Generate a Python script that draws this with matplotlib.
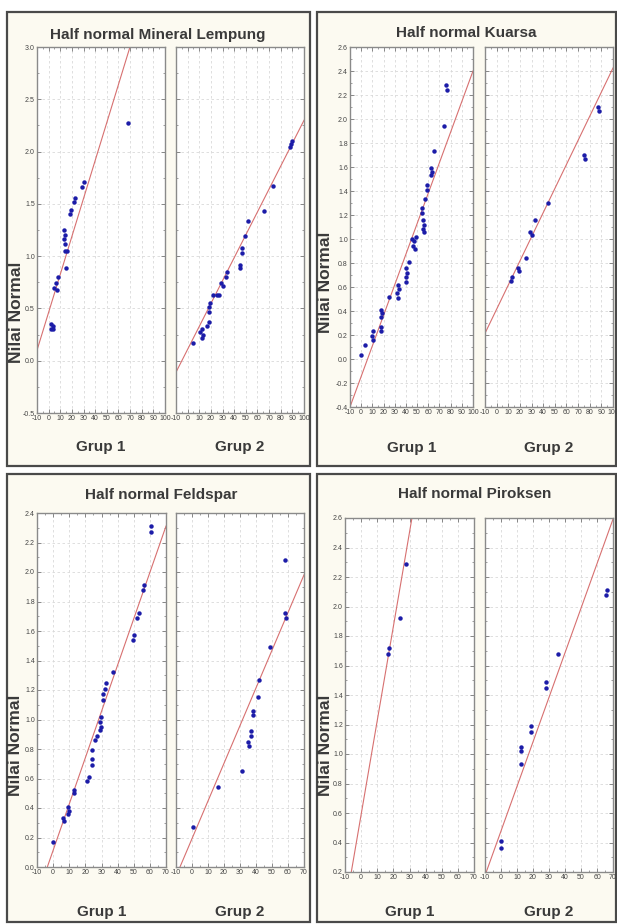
import matplotlib
matplotlib.use("Agg")
import matplotlib.pyplot as plt
from matplotlib.patches import Rectangle
from matplotlib.ticker import AutoMinorLocator

plt.rcParams['font.family'] = ['Liberation Sans', 'DejaVu Sans']

# ---- data (observed value, expected half-normal value) ----
titles = ["Half normal Mineral Lempung", "Half normal Kuarsa",
          "Half normal Feldspar", "Half normal Piroksen"]
group_names = ["Grup 1", "Grup 2"]

# Mineral Lempung
lempung_g1_x = [68.5, 30, 29, 23, 22, 19, 18, 13, 14, 13, 14, 14, 16, 15, 8, 6, 5, 7, 2, 4, 2, 4]
lempung_g1_y = [2.27, 1.71, 1.66, 1.56, 1.52, 1.44, 1.40, 1.25, 1.20, 1.16, 1.12, 1.05, 1.05,
                0.89, 0.80, 0.74, 0.70, 0.68, 0.35, 0.33, 0.30, 0.30]
lempung_g2_x = [90, 89, 88, 73, 66, 52, 49, 47, 47, 45, 45, 34, 33, 29, 30, 22, 25, 27,
                19, 18, 18, 18, 17, 12, 11, 13, 12, 5]
lempung_g2_y = [2.10, 2.07, 2.04, 1.67, 1.43, 1.34, 1.19, 1.08, 1.03, 0.92, 0.89, 0.85, 0.80,
                0.74, 0.71, 0.63, 0.63, 0.63, 0.55, 0.51, 0.47, 0.37, 0.33, 0.30, 0.27,
                0.25, 0.22, 0.17]
lempung_fit = [(0.463, 0.0363), (0.109, 0.0219)]  # (intercept, slope)

# Kuarsa
kuarsa_g1_x = [76, 77, 74, 65, 62, 63, 62, 59, 59, 57, 54, 54, 55, 56, 55, 56, 45, 47, 49,
               46, 48, 42.5, 40, 41, 40, 40, 33, 34, 32, 33, 24.6, 18, 19, 18, 17.5, 18,
               11, 10, 11, 3, 0]
kuarsa_g1_y = [2.28, 2.24, 1.94, 1.73, 1.59, 1.56, 1.53, 1.45, 1.41, 1.33, 1.26, 1.22, 1.16,
               1.12, 1.08, 1.06, 1.00, 0.98, 1.02, 0.94, 0.92, 0.81, 0.76, 0.72, 0.68, 0.64,
               0.62, 0.58, 0.55, 0.51, 0.52, 0.41, 0.38, 0.35, 0.27, 0.23, 0.23, 0.19,
               0.16, 0.12, 0.03]
kuarsa_g2_x = [87, 88, 75, 76, 44, 33, 29, 30, 25.5, 18, 19, 13, 12]
kuarsa_g2_y = [2.10, 2.07, 1.70, 1.67, 1.30, 1.16, 1.06, 1.03, 0.84, 0.76, 0.73, 0.68, 0.65]
kuarsa_fit = [(-0.145, 0.02545), (0.415, 0.0201)]

# Feldspar
feldspar_g1_x = [61, 61, 56.4, 56, 53, 52, 50, 49.5, 37, 33, 32, 31, 31, 29.5, 29, 29.5, 29,
                 27, 26, 24, 24, 24, 22, 21, 13, 13, 9.4, 10, 9, 6, 6.5, -0.3]
feldspar_g1_y = [2.31, 2.27, 1.91, 1.88, 1.72, 1.69, 1.57, 1.54, 1.32, 1.25, 1.21, 1.17, 1.13,
                 1.02, 0.98, 0.95, 0.93, 0.89, 0.86, 0.79, 0.73, 0.69, 0.61, 0.58, 0.52,
                 0.50, 0.41, 0.38, 0.36, 0.33, 0.31, 0.17]
feldspar_g2_x = [58, 58, 58.5, 49, 42, 41.5, 38, 38, 36.7, 37, 35, 35.5, 31, 16.5, 0.8]
feldspar_g2_y = [2.08, 1.72, 1.69, 1.49, 1.27, 1.15, 1.06, 1.03, 0.92, 0.89, 0.85, 0.82,
                 0.65, 0.54, 0.27]
feldspar_fit = [(0.113, 0.0314), (0.192, 0.02555)]

# Piroksen
piroksen_g1_x = [28, 24, 17, 16.5]
piroksen_g1_y = [2.29, 1.92, 1.72, 1.68]
piroksen_g2_x = [66, 65.5, 35.4, 28.3, 28, 18.5, 19, 12.7, 12.5, 12.5, 0.2, 0.3]
piroksen_g2_y = [2.11, 2.08, 1.68, 1.49, 1.45, 1.19, 1.15, 1.05, 1.02, 0.93, 0.41, 0.36]
piroksen_fit = [(0.589, 0.0638), (0.478, 0.0302)]

# axis ticks
xticks_wide = [-10, 0, 10, 20, 30, 40, 50, 60, 70, 80, 90, 100]
xticks_narrow = [-10, 0, 10, 20, 30, 40, 50, 60, 70]
lempung_yticks = [-0.5, 0.0, 0.5, 1.0, 1.5, 2.0, 2.5, 3.0]
kuarsa_yticks = [-0.4, -0.2, 0.0, 0.2, 0.4, 0.6, 0.8, 1.0, 1.2, 1.4, 1.6, 1.8, 2.0, 2.2, 2.4, 2.6]
feldspar_yticks = [0.0, 0.2, 0.4, 0.6, 0.8, 1.0, 1.2, 1.4, 1.6, 1.8, 2.0, 2.2, 2.4]
piroksen_yticks = [0.2, 0.4, 0.6, 0.8, 1.0, 1.2, 1.4, 1.6, 1.8, 2.0, 2.2, 2.4, 2.6]

# ---- layout (pixels) ----
W, H = 617, 924
fig = plt.figure(figsize=(W / 100, H / 100), dpi=100)
fig.patch.set_facecolor('white')


def box(l, t, r, b):
    return [l / W, 1 - b / H, (r - l) / W, (b - t) / H]


panels = [
    dict(frame=(7, 12, 310, 466), title_xy=(158, 35), ylab_xy=(17, 312), grp_y=447,
         axes=[(37, 47, 165, 413), (176, 47, 304, 413)],
         data=[(lempung_g1_x, lempung_g1_y), (lempung_g2_x, lempung_g2_y)], fit=lempung_fit,
         xticks=xticks_wide, yticks=lempung_yticks),
    dict(frame=(317, 12, 616, 466), title_xy=(466, 33), ylab_xy=(325, 282), grp_y=448,
         axes=[(350, 47, 473, 407), (485, 47, 613, 407)],
         data=[(kuarsa_g1_x, kuarsa_g1_y), (kuarsa_g2_x, kuarsa_g2_y)], fit=kuarsa_fit,
         xticks=xticks_wide, yticks=kuarsa_yticks),
    dict(frame=(7, 474, 310, 922), title_xy=(161, 495), ylab_xy=(16, 745), grp_y=912,
         axes=[(37, 513, 166, 867), (176, 513, 304, 867)],
         data=[(feldspar_g1_x, feldspar_g1_y), (feldspar_g2_x, feldspar_g2_y)], fit=feldspar_fit,
         xticks=xticks_narrow, yticks=feldspar_yticks),
    dict(frame=(317, 474, 616, 922), title_xy=(475, 494), ylab_xy=(325, 745), grp_y=912,
         axes=[(345, 518, 474, 872), (485, 518, 613, 872)],
         data=[(piroksen_g1_x, piroksen_g1_y), (piroksen_g2_x, piroksen_g2_y)], fit=piroksen_fit,
         xticks=xticks_narrow, yticks=piroksen_yticks),
]

for p, title in zip(panels, titles):
    l, t, r, b = p['frame']
    fig.patches.append(Rectangle((l / W, 1 - b / H), (r - l) / W, (b - t) / H,
                                 transform=fig.transFigure, facecolor='#fcfaf1',
                                 edgecolor='#4a4a4a', linewidth=1.6, zorder=-10))
    fig.text(p['title_xy'][0] / W, 1 - p['title_xy'][1] / H, title, ha='center', va='center',
             fontsize=11, fontweight='bold', color='#3a3a3a')
    fig.text(p['ylab_xy'][0] / W, 1 - p['ylab_xy'][1] / H, "Nilai Normal", rotation=90,
             ha='center', va='center', fontsize=12.5, fontweight='bold', color='#3a3a3a',
             zorder=5)

    for k, (rect, (xs, ys), (b0, m)) in enumerate(zip(p['axes'], p['data'], p['fit'])):
        ax = fig.add_axes(box(*rect))
        ax.set_zorder(1)
        ax.set_facecolor('white')
        ax.set_xlim(p['xticks'][0], p['xticks'][-1])
        ax.set_ylim(p['yticks'][0], p['yticks'][-1])
        ax.set_xticks(p['xticks'])
        ax.set_xticklabels([str(v) for v in p['xticks']])
        ax.set_yticks(p['yticks'])
        if k == 0:
            ax.set_yticklabels([f"{v:.1f}" for v in p['yticks']])
        else:
            ax.set_yticklabels([])
        ax.xaxis.set_minor_locator(AutoMinorLocator(2))
        ax.yaxis.set_minor_locator(AutoMinorLocator(2))
        ax.tick_params(which='both', direction='in', top=True, right=True,
                       labelsize=5.0, labelcolor='#444444', color='#777777', pad=1.5)
        ax.tick_params(which='major', length=3, width=0.6)
        ax.tick_params(which='minor', length=1.5, width=0.5)
        for s in ax.spines.values():
            s.set_color('#8a8a8a')
            s.set_linewidth(1.0)
        ax.grid(True, which='major', color='#d9d9d9', linestyle=(0, (3, 3)), linewidth=0.6)
        ax.set_axisbelow(True)

        ax.axline((0, b0), slope=m, color='#d77070', linewidth=0.8, zorder=2)
        ax.plot(xs, ys, 'o', color='#1c1ca8', markersize=3.2, markeredgewidth=0, zorder=3)

        cx = (rect[0] + rect[2]) / 2
        fig.text(cx / W, 1 - p['grp_y'] / H, group_names[k], ha='center', va='center',
                 fontsize=11, fontweight='bold', color='#3a3a3a')

fig.savefig('out.png', dpi=100)
